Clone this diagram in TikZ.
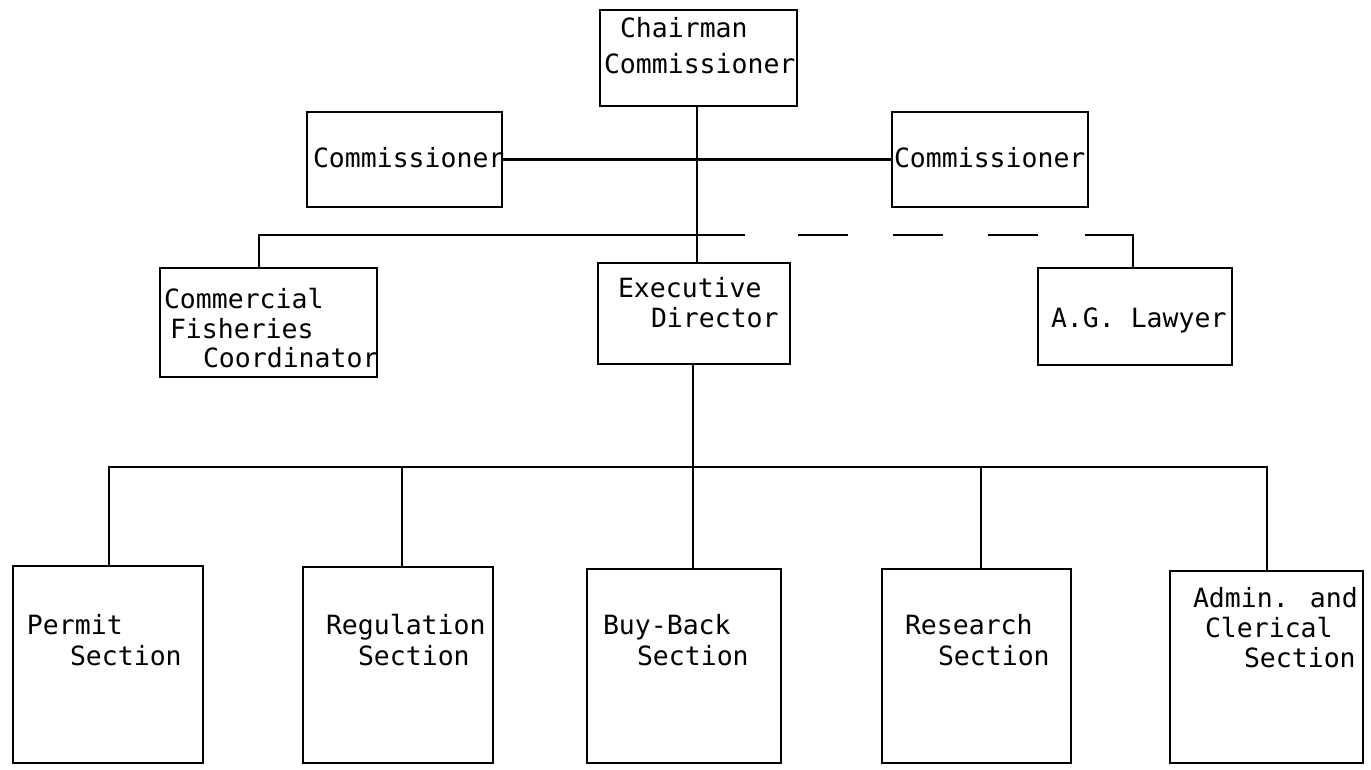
\documentclass[tikz,border=0pt]{standalone}
\usepackage{fontspec}
\newfontfamily\tw{DejaVu Sans Mono}
\tikzset{
  box/.style={draw, rectangle, line width=2.4pt, inner sep=0pt, outer sep=0pt},
  txt/.style={anchor=base west, inner sep=0pt, outer sep=0pt, font=\tw\fontsize{26.5}{30}\selectfont},
  link/.style={line width=2.4pt}
}
\begin{document}
\begin{tikzpicture}[x=1pt,y=-1pt]
\useasboundingbox[fill=white] (0,0) rectangle (1371,769);
% boxes
\node[box, minimum width=197pt, minimum height=96pt] (chair) at (698.5,58) {};
\node[box, minimum width=195pt, minimum height=95pt] (comL) at (404.5,159.5) {};
\node[box, minimum width=196pt, minimum height=95pt] (comR) at (990,159.5) {};
\node[box, minimum width=217pt, minimum height=109pt] (cfc) at (268.5,322.5) {};
\node[box, minimum width=192pt, minimum height=101pt] (ed) at (694,313.5) {};
\node[box, minimum width=194pt, minimum height=97pt] (ag) at (1135,316.5) {};
\node[box, minimum width=190pt, minimum height=197pt] (permit) at (108,664.5) {};
\node[box, minimum width=190pt, minimum height=196pt] (reg) at (398,665) {};
\node[box, minimum width=194pt, minimum height=194pt] (buy) at (684,666) {};
\node[box, minimum width=189pt, minimum height=194pt] (res) at (976.5,666) {};
\node[box, minimum width=193pt, minimum height=192pt] (admin) at (1266.5,667) {};
% texts
\node[txt] (t1) at (620,37) {Chairman};
\node[txt] (t2) at (604,73) {Commissioner};
\node[txt] (t3) at (313,167) {Commissioner};
\node[txt] (t4) at (894,167) {Commissioner};
\node[txt] (t5) at (164,308) {Commercial};
\node[txt] (t6) at (170,338) {Fisheries};
\node[txt] (t7) at (203,367) {Coordinator};
\node[txt] (t8) at (618,297) {Executive};
\node[txt] (t9) at (651,327) {Director};
\node[txt] (t10) at (1051,327) {A.G. Lawyer};
\node[txt] (t11) at (27,634) {Permit};
\node[txt] (t12) at (70,665) {Section};
\node[txt] (t13) at (326,634) {Regulation};
\node[txt] (t14) at (358,665) {Section};
\node[txt] (t15) at (603,634) {Buy-Back};
\node[txt] (t16) at (637,665) {Section};
\node[txt] (t17) at (905,634) {Research};
\node[txt] (t18) at (938,665) {Section};
\node[txt] (t19) at (1193,607) {Admin. and};
\node[txt] (t20) at (1205,637) {Clerical};
\node[txt] (t21) at (1244,667) {Section};
% coordinates
\coordinate (tr) at (697,200);
\coordinate (tb) at (693,467);
\coordinate (barL) at (259,235);
\coordinate (barM) at (745,235);
\coordinate (d1) at (798,235);
\coordinate (d2) at (1040,235);
\coordinate (d3) at (1085,235);
\coordinate (barR) at (1133,235);
\coordinate (bl) at (109,467);
\coordinate (br) at (1267,467);
\coordinate (vr) at (402,467);
\coordinate (vs) at (981,467);
% connectors
\draw[link] (tr |- chair.south) -- (tr |- ed.north);
\draw[link] (comL.east) -- (comR.west);
\draw[link] (barL |- cfc.north) -- (barL) -- (barM);
\draw[link, dash pattern=on 50pt off 45pt] (d1) -- (d2);
\draw[link] (d3) -- (barR) -- (barR |- ag.north);
\draw[link] (tb |- ed.south) -- (tb |- buy.north);
\draw[link] (bl |- permit.north) -- (bl) -- (br) -- (br |- admin.north);
\draw[link] (vr) -- (vr |- reg.north);
\draw[link] (vs) -- (vs |- res.north);
\end{tikzpicture}
\end{document}
